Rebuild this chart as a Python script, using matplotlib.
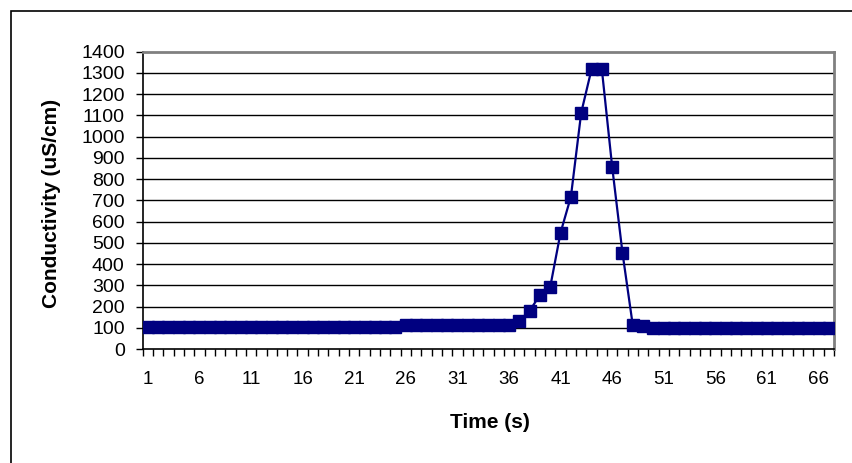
import matplotlib
matplotlib.use("Agg")
import matplotlib.pyplot as plt
from matplotlib.patches import Rectangle

# Conductivity readings, one per second
time_s = list(range(1, 68))
conductivity = (
    [102] * 25
    + [111] * 11
    + [132, 180, 254, 293, 548, 717, 1113, 1317, 1317, 858, 453, 111, 110]
    + [100] * 18
)
y_ticks = list(range(0, 1401, 100))
x_tick_labels = list(range(1, 68, 5))

W, H = 853, 463
fig = plt.figure(figsize=(W / 100, H / 100), dpi=100)
fig.patch.set_facecolor("white")

# outer chart frame
fig.patches.append(Rectangle((11 / W, -0.1), 1.2, (H - 11) / H + 0.1,
                             transform=fig.transFigure, fill=False,
                             edgecolor="black", linewidth=1.2))

left, right, top, bottom = 142.7, 834.0, 51.7, 349.0
aw, ah = right - left, bottom - top
ax = fig.add_axes([left / W, (H - bottom) / H, aw / W, ah / H])

font = ["Liberation Sans", "Arial", "DejaVu Sans"]

ax.plot(time_s, conductivity, color="#000080", linewidth=1.6,
        marker="s", markersize=9.2, markerfacecolor="#000080",
        markeredgecolor="#000080", zorder=3)

ax.set_xlim(0.5, len(time_s) + 0.5)
ax.set_ylim(0, 1400)

ax.set_yticks(y_ticks)
ax.set_yticklabels([str(v) for v in y_ticks], fontfamily=font, fontsize=14)
for v in y_ticks[1:-1]:
    ax.axhline(v, color="black", linewidth=1.0, zorder=1)

ax.set_xticks(x_tick_labels)
ax.set_xticklabels([str(v) for v in x_tick_labels], fontfamily=font, fontsize=13.5)
ax.set_xticks([i + 0.5 for i in range(0, len(time_s) + 1)], minor=True)
ax.tick_params(axis="x", which="major", length=0, pad=16)
ax.tick_params(axis="x", which="minor", length=5, width=1, color="black", direction="out")
ax.tick_params(axis="y", which="major", length=5, width=1, color="black", direction="out", pad=8)

for side in ("left", "bottom"):
    ax.spines[side].set_color("black")
    ax.spines[side].set_linewidth(1.2)
for side in ("top", "right"):
    ax.spines[side].set_color("#808080")
    ax.spines[side].set_linewidth(2.0)

ax.set_ylabel("Conductivity (uS/cm)", fontfamily=font, fontsize=15, fontweight="bold")
ax.yaxis.label.set_va("center")
ax.yaxis.set_label_coords((52 - left) / aw, 0.49)

ax.set_xlabel("Time (s)", fontfamily=font, fontsize=15, fontweight="bold")
ax.xaxis.label.set_va("center")
ax.xaxis.set_label_coords((490 - left) / aw, (bottom - 423) / ah)

fig.savefig("out.png", dpi=100, facecolor="white")
